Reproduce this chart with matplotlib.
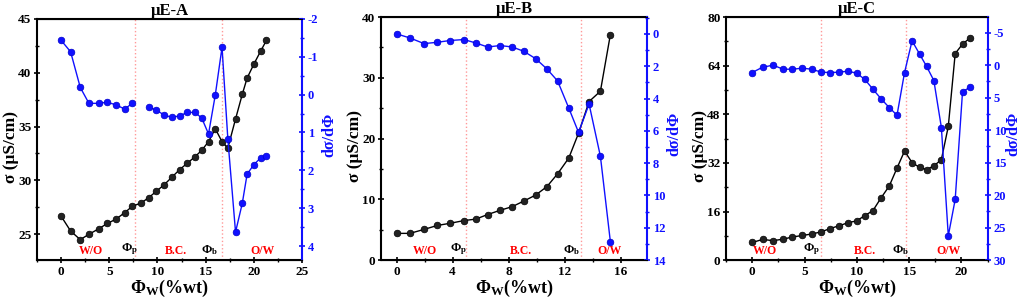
import numpy as np
import matplotlib
matplotlib.use("Agg")
import matplotlib.pyplot as plt
from matplotlib.ticker import MultipleLocator

plt.rcParams['font.family'] = ['Liberation Serif', 'DejaVu Serif']
plt.rcParams['font.weight'] = 'bold'
plt.rcParams['mathtext.fontset'] = 'custom'
plt.rcParams['mathtext.rm'] = 'Liberation Serif:bold'
plt.rcParams['mathtext.it'] = 'Liberation Serif:bold'
plt.rcParams['mathtext.bf'] = 'Liberation Serif:bold'
plt.rcParams['axes.unicode_minus'] = False

#uE-A data
x_a = [0, 1, 2, 2.9, 3.9, 4.8, 5.7, 6.6, 7.4, 8.3, 9.1, 9.9, 10.7, 11.5, 12.3, 13.1,
       13.9, 14.6, 15.3, 16.0, 16.7, 17.3, 18.1, 18.8, 19.3, 20.0, 20.7, 21.3]
sigma_a = [26.7, 25.3, 24.5, 25.0, 25.5, 26.0, 26.4, 27.0, 27.6, 27.9, 28.4, 29.0, 29.6, 30.3,
           31.0, 31.6, 32.2, 32.8, 33.6, 34.8, 33.6, 33.0, 35.7, 38.0, 39.5, 40.8, 42.0, 43.0]
deriv_a = [-1.44, -1.13, -0.19, 0.23, 0.23, 0.20, 0.27, 0.38, 0.23, np.nan, 0.33, 0.41, 0.54, 0.60,
           0.56, 0.47, 0.47, 0.62, 1.04, 0.01, -1.25, 1.16, 3.63, 2.87, 2.10, 1.85, 1.67, 1.61]

#uE-B data
x_b = [0, 0.95, 1.96, 2.9, 3.8, 4.8, 5.66, 6.5, 7.4, 8.26, 9.07, 9.93, 10.74, 11.5,
       12.3, 13.0, 13.75, 14.56, 15.27]
sigma_b = [4.4, 4.4, 5.05, 5.7, 6.05, 6.5, 6.75, 7.5, 8.2, 8.8, 9.7, 10.7, 12.1, 14.2,
           16.8, 20.9, 26.1, 27.8, 37.1]
deriv_b = [0.0, 0.25, 0.6, 0.52, 0.41, 0.35, 0.56, 0.81, 0.72, 0.81, 1.07, 1.53, 2.17, 2.91,
           4.59, 6.1, 4.34, 7.58, 12.85]

#uE-C data
x_c = [0, 1.0, 2.0, 2.96, 3.84, 4.78, 5.7, 6.6, 7.45, 8.3, 9.15, 9.97, 10.75, 11.54, 12.3,
       13.1, 13.84, 14.56, 15.28, 16.0, 16.67, 17.36, 18.08, 18.74, 19.4, 20.1, 20.8]
sigma_c = [5.8, 6.8, 6.4, 6.9, 7.6, 8.1, 8.6, 9.3, 10.4, 11.3, 12.3, 12.9, 14.6, 16.3, 20.4,
           24.4, 30.3, 35.9, 32.1, 30.5, 29.8, 31.0, 33.1, 44.0, 68.0, 71.1, 73.1]
deriv_c = [1.13, 0.31, 0.0, 0.62, 0.62, 0.46, 0.62, 1.08, 1.13, 1.08, 0.92, 1.23, 2.16, 3.7, 5.14,
           6.53, 7.7, 1.13, -3.75, -1.7, 0.2, 2.36, 9.6, 26.26, 20.66, 4.1, 3.4]

titles = ["μE-A", "μE-B", "μE-C"]
phi_lines = [(7.65, 16.7), (4.96, 13.2), (6.6, 14.7)]
#regions label x positions: W/O, phi_p, B.C., phi_b, O/W
label_x = [(3.1, 7.1, 11.9, 15.4, 20.9), (2.0, 4.4, 8.9, 12.5, 15.2), (1.2, 5.7, 10.75, 14.2, 18.8)]

panels = [
    dict(x=x_a, s=sigma_a, d=deriv_a, xlim=(-2.5, 25), ylim=(22.6, 45), y2lim=(4.37, -2),
         xmaj=5, ymaj=5, y2maj=1, pos=[0.036, 0.133, 0.259, 0.804], r_lab=1.072),
    dict(x=x_b, s=sigma_b, d=deriv_b, xlim=(-1.12, 17.9), ylim=(0, 40), y2lim=(14, -1.04),
         xmaj=4, ymaj=10, y2maj=2, pos=[0.372, 0.133, 0.260, 0.810], r_lab=1.072),
    dict(x=x_c, s=sigma_c, d=deriv_c, xlim=(-2.5, 22.55), ylim=(0, 80), y2lim=(30, -7.4),
         xmaj=5, ymaj=16, y2maj=5, pos=[0.709, 0.133, 0.256, 0.810], r_lab=1.066),
]

blue = "#1010ff"
fig = plt.figure(figsize=(10.24, 3.0), dpi=100)

for i, p in enumerate(panels):
    ax = fig.add_axes(p["pos"])
    ax2 = ax.twinx()

    for xv in phi_lines[i]:
        ax.axvline(xv, color="#ff9999", ls=":", lw=1.0, zorder=0)

    ax.plot(p["x"], p["s"], color="black", lw=1.0, marker="o", ms=4.8,
            mfc="#222222", mec="black", mew=0.5, zorder=3)
    ax2.plot(p["x"], p["d"], color=blue, lw=1.0, marker="o", ms=4.8,
             mfc=blue, mec="#0000cc", mew=0.5, zorder=3)

    ax.set_xlim(p["xlim"])
    ax.set_ylim(p["ylim"])
    ax2.set_ylim(p["y2lim"])

    ax.xaxis.set_major_locator(MultipleLocator(p["xmaj"]))
    ax.xaxis.set_minor_locator(MultipleLocator(p["xmaj"] / 2))
    ax.yaxis.set_major_locator(MultipleLocator(p["ymaj"]))
    ax.yaxis.set_minor_locator(MultipleLocator(p["ymaj"] / 2))
    ax2.yaxis.set_major_locator(MultipleLocator(p["y2maj"]))
    ax2.yaxis.set_minor_locator(MultipleLocator(p["y2maj"] / 2))

    ax.tick_params(which="major", direction="inout", length=5, width=1.2, labelsize=9.5, pad=1.5)
    ax.tick_params(which="minor", direction="inout", length=3, width=1.0)
    ax2.tick_params(which="major", direction="inout", length=5, width=1.2, labelsize=9,
                    colors=blue, pad=1.5)
    ax2.tick_params(which="minor", direction="inout", length=3, width=1.0, colors=blue)

    for sp in ["left", "bottom", "top"]:
        ax.spines[sp].set_linewidth(1.5)
    ax2.spines["right"].set_color(blue)
    ax2.spines["right"].set_linewidth(1.5)
    ax2.spines["left"].set_visible(False)
    ax.spines["right"].set_visible(False)

    ax.set_xlabel(r"$\Phi_W$(%wt)", fontsize=13, fontweight="bold", labelpad=0)
    ax.set_ylabel("σ (μS/cm)", fontsize=12.5, fontweight="bold")
    ax.yaxis.set_label_coords(-0.068, 0.47)
    ax2.set_ylabel("dσ/dΦ", fontsize=11.5, fontweight="bold", color=blue)
    ax2.yaxis.set_label_coords(p["r_lab"], 0.52)
    ax.set_title(titles[i], fontsize=12, fontweight="bold", pad=2)

    # region labels near bottom
    ylo, yhi = p["ylim"]
    ytxt = ylo + (yhi - ylo) * 0.012
    lx = label_x[i]
    ax.text(lx[0], ytxt, "W/O", color="red", fontsize=8.5, fontweight="bold", ha="center", va="bottom")
    ax.text(lx[1], ytxt, r"$\Phi_p$", color="black", fontsize=9, ha="center", va="bottom")
    ax.text(lx[2], ytxt, "B.C.", color="red", fontsize=8.5, fontweight="bold", ha="center", va="bottom")
    ax.text(lx[3], ytxt, r"$\Phi_b$", color="black", fontsize=9, ha="center", va="bottom")
    ax.text(lx[4], ytxt, "O/W", color="red", fontsize=8.5, fontweight="bold", ha="center", va="bottom")

fig.savefig("out.png", dpi=100)
